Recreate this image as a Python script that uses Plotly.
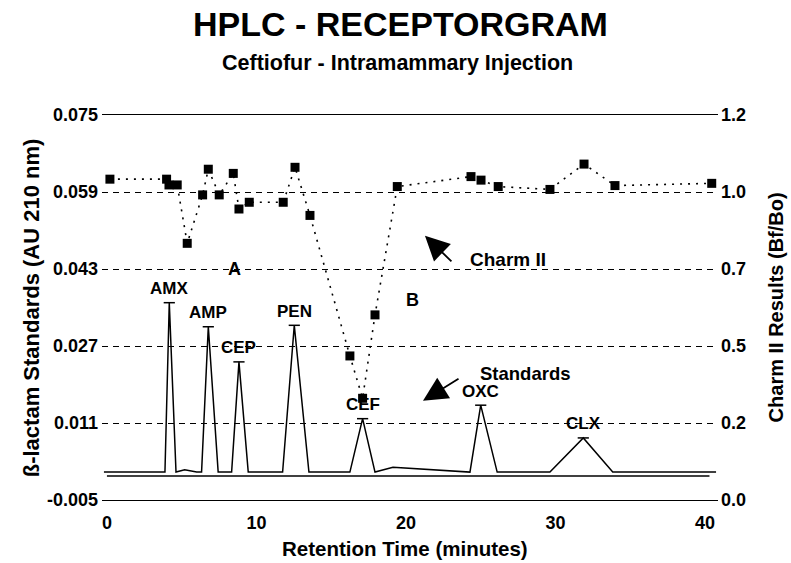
import plotly.graph_objects as go

# Charm II receptor assay results (Bf/Bo) by retention time fraction
charm_time = [0.2, 3.99, 4.15, 4.70, 5.37, 6.40, 6.78, 7.51, 8.45, 8.83, 9.52,
              11.79, 12.58, 13.58, 16.25, 17.10, 17.93, 19.42, 24.35, 25.02,
              26.17, 29.63, 31.91, 33.98, 40.45]
charm_bfbo = [1.00, 1.00, 0.982, 0.982, 0.800, 0.951, 1.031, 0.951, 1.018, 0.907,
              0.928, 0.928, 1.037, 0.887, 0.449, 0.317, 0.577, 0.977, 1.008,
              0.997, 0.977, 0.968, 1.047, 0.980, 0.987]

# HPLC trace of the beta-lactam standards (AU at 210 nm)
std_time = [-0.2, 3.88, 4.17, 4.62, 5.2, 6.0, 6.33, 6.78, 7.44, 8.34, 8.83, 9.45,
            11.75, 12.53, 13.51, 16.25, 17.10, 17.93, 19.13, 24.28, 25.0, 26.1,
            29.63, 31.86, 33.83, 40.74]
std_au = [0.0008, 0.0008, 0.0360, 0.0008, 0.0013, 0.0008, 0.0008, 0.0310, 0.0008,
          0.0008, 0.0237, 0.0008, 0.0008, 0.0313, 0.0008, 0.0008, 0.0119, 0.0008,
          0.0018, 0.0008, 0.0147, 0.0008, 0.0008, 0.0079, 0.0008, 0.0008]

# Peak apices and their names
peak_names = ["AMX", "AMP", "CEP", "PEN", "CEF", "OXC", "CLX"]
peak_time = [4.17, 6.78, 8.83, 12.53, 17.10, 25.0, 31.86]
peak_au = [0.0360, 0.0310, 0.0237, 0.0313, 0.0119, 0.0147, 0.0079]

# Axis ticks
x_ticks = [0, 10, 20, 30, 40]
x_tick_text = ["0", "10", "20", "30", "40"]
au_ticks = [-0.005, 0.011, 0.027, 0.043, 0.059, 0.075]
au_tick_text = ["-0.005", "0.011", "0.027", "0.043", "0.059", "0.075"]
bfbo_ticks = [0, 0.24, 0.48, 0.72, 0.96, 1.2]
bfbo_tick_text = ["0.0", "0.2", "0.5", "0.7", "1.0", "1.2"]

FONT = "Liberation Sans"
BLACK = "#000000"


def bold(size):
    return dict(family=FONT, size=size, color=BLACK, weight=700)


def b(labels):
    return ["<b>%s</b>" % s for s in labels]


fig = go.Figure()

fig.add_trace(go.Scatter(
    x=std_time, y=std_au, mode="lines",
    line=dict(color=BLACK, width=1.5), hoverinfo="skip", showlegend=False,
))
fig.add_trace(go.Scatter(
    x=peak_time, y=peak_au, mode="markers",
    marker=dict(symbol="line-ew", size=8, line=dict(color=BLACK, width=1.5)),
    hoverinfo="skip", showlegend=False,
))
fig.add_trace(go.Scatter(
    x=charm_time, y=charm_bfbo, yaxis="y2", mode="lines+markers",
    line=dict(color=BLACK, width=1.6, dash="2px,6px"),
    marker=dict(symbol="square", size=9, color=BLACK),
    hoverinfo="skip", showlegend=False,
))

annotations = []
for name, t, au in zip(peak_names, peak_time, peak_au):
    annotations.append(dict(x=t, y=au, xref="x", yref="y", text=name,
                            showarrow=False, yanchor="middle", yshift=14,
                            font=bold(17)))

annotations += [
    dict(x=8.5, y=0.043, xref="x", yref="y", text="A", showarrow=False, font=bold(18)),
    dict(x=20.47, y=0.0366, xref="x", yref="y", text="B", showarrow=False, font=bold(18)),
    dict(x=26.8, y=0.0449, xref="x", yref="y", text="Charm II", showarrow=False,
         font=bold(19)),
    dict(x=21.27, y=0.0499, xref="x", yref="y", text="", showarrow=True,
         ax=28, ay=27, arrowhead=2, arrowsize=2.7, arrowwidth=1.8, arrowcolor=BLACK),
    dict(x=27.96, y=0.0213, xref="x", yref="y", text="Standards", showarrow=False,
         font=bold(18.5)),
    dict(x=21.14, y=0.0156, xref="x", yref="y", text="", showarrow=True,
         ax=37, ay=-23, arrowhead=2, arrowsize=2.7, arrowwidth=1.8, arrowcolor=BLACK),
    # titles
    dict(x=0.4838, y=1.236, xref="paper", yref="paper", text="HPLC - RECEPTORGRAM",
         showarrow=False, xanchor="center", yanchor="middle", font=bold(34)),
    dict(x=0.4805, y=1.135, xref="paper", yref="paper",
         text="Ceftiofur - Intramammary Injection",
         showarrow=False, xanchor="center", yanchor="middle", font=bold(21.5)),
    dict(x=-0.114, y=0.5, xref="paper", yref="paper",
         text="ß-lactam Standards (AU 210 nm)", textangle=-90,
         showarrow=False, xanchor="center", yanchor="middle", font=bold(22)),
    dict(x=1.094, y=0.5, xref="paper", yref="paper",
         text="Charm II Results (Bf/Bo)", textangle=-90,
         showarrow=False, xanchor="center", yanchor="middle", font=bold(20)),
    dict(x=0.492, y=-0.127, xref="paper", yref="paper",
         text="Retention Time (minutes)", showarrow=False,
         xanchor="center", yanchor="middle", font=bold(20.5)),
]

fig.update_layout(
    width=791, height=563,
    margin=dict(l=102, r=73, t=115, b=63),
    paper_bgcolor="white", plot_bgcolor="white",
    showlegend=False,
    annotations=annotations,
    shapes=[dict(type="line", xref="x", yref="y", x0=0, x1=40.3, y0=0, y1=0,
                 line=dict(color=BLACK, width=1.5), layer="below")],
    xaxis=dict(
        range=[-0.33, 40.87], tickvals=x_ticks, ticktext=b(x_tick_text), ticks="",
        showgrid=False, zeroline=False, showline=True, mirror=True,
        linecolor=BLACK, linewidth=1.2, tickfont=bold(18), ticklabelstandoff=6,
    ),
    yaxis=dict(
        range=[-0.005, 0.075], tickvals=au_ticks, ticktext=b(au_tick_text),
        showgrid=True, gridcolor=BLACK, gridwidth=1, griddash="6px,5px",
        zeroline=False, showline=False, ticks="", tickfont=bold(18),
        ticklabelstandoff=3,
    ),
    yaxis2=dict(
        overlaying="y", side="right", range=[0, 1.2], tickvals=bfbo_ticks,
        ticktext=b(bfbo_tick_text), showgrid=False, zeroline=False,
        showline=False, ticks="", tickfont=bold(18), ticklabelstandoff=2,
    ),
)

fig.write_html("out.html")
